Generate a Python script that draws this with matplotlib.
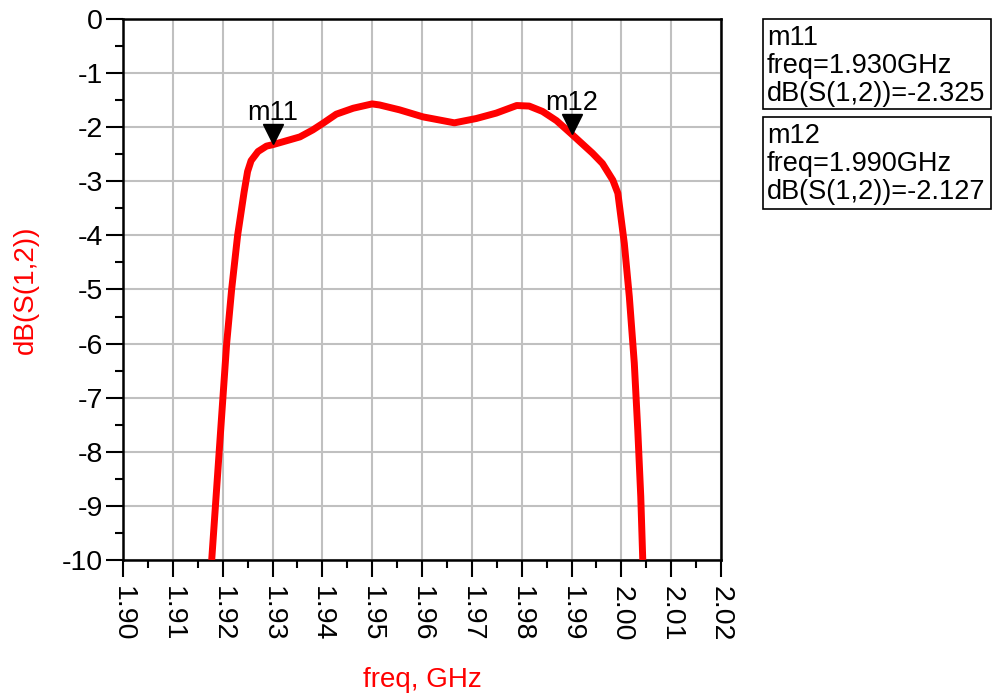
import matplotlib
matplotlib.use("Agg")
import matplotlib.pyplot as plt
import matplotlib.transforms as mtransforms
from matplotlib.patches import Rectangle
import numpy as np

plt.rcParams["font.family"] = ["Liberation Sans", "DejaVu Sans"]

# S(1,2) trace
freq_ghz = [1.9178, 1.9208, 1.9218, 1.9230, 1.9243, 1.9250, 1.9257, 1.9271,
            1.9288, 1.9300, 1.9321, 1.9355, 1.9381, 1.9401, 1.9428, 1.9462,
            1.9500, 1.9515, 1.9555, 1.9602, 1.9665, 1.9709, 1.9749, 1.9790,
            1.9815, 1.9842, 1.9870, 1.9900, 1.9942, 1.9962, 1.9983, 1.9993,
            2.0006, 2.0016, 2.0026, 2.0033, 2.0039, 2.0043]
s12_db = [-10.0, -6.0, -5.0, -4.0, -3.2, -2.82, -2.62, -2.45,
          -2.35, -2.325, -2.27, -2.18, -2.05, -1.93, -1.76, -1.65,
          -1.57, -1.59, -1.68, -1.81, -1.92, -1.84, -1.74, -1.60,
          -1.61, -1.71, -1.88, -2.127, -2.48, -2.67, -2.98, -3.22,
          -4.15, -5.13, -6.36, -7.6, -8.83, -10.0]

marker_names = ["m11", "m12"]
marker_freq = [1.930, 1.990]
marker_db = [-2.325, -2.127]

xticks = np.round(np.arange(1.90, 2.0201, 0.01), 2)
yticks = np.arange(-10, 1, 1)

fig = plt.figure(figsize=(10, 6.97), dpi=100)
ax = fig.add_axes([0.123, 0.1966, 0.598, 0.7762])

ax.plot(freq_ghz, s12_db, color="red", linewidth=5, solid_joinstyle="round",
        solid_capstyle="butt", zorder=3)

tri = mtransforms.offset_copy(ax.transData, fig=fig, x=0, y=7.5, units="points")
for name, f, v in zip(marker_names, marker_freq, marker_db):
    ax.plot(f, v, marker="v", markersize=15, color="black", transform=tri,
            zorder=4, clip_on=False)
    ax.annotate(name, xy=(f, v), xytext=(0, 17.5), textcoords="offset points",
                ha="center", va="baseline", fontsize=19.5, zorder=5)

ax.set_xlim(1.90, 2.02)
ax.set_ylim(-10, 0)
ax.set_xticks(xticks)
ax.set_xticklabels([f"{t:.2f}" for t in xticks], rotation=270, fontsize=20.5)
ax.set_xticks(xticks[:-1] + 0.005, minor=True)
ax.set_yticks(yticks)
ax.set_yticklabels([str(t) for t in yticks], fontsize=20.5)
ax.set_yticks(yticks[:-1] + 0.5, minor=True)

ax.tick_params(which="major", length=12.5, width=1.5)
ax.tick_params(which="minor", length=6, width=1.5)
ax.tick_params(axis="y", which="major", pad=2)
ax.tick_params(axis="x", which="major", pad=6)
ax.grid(True, which="major", color="#c0c0c0", linewidth=1.5)
ax.set_axisbelow(True)
for s in ax.spines.values():
    s.set_linewidth(1.8)

ax.set_xlabel("freq, GHz", color="red", fontsize=20, va="top")
ax.xaxis.set_label_coords(0.5, -0.197)
ax.set_ylabel("dB(S(1,2))", color="red", fontsize=20)
ax.yaxis.set_label_coords(-0.14, 0.5)

# marker readout boxes (pixel positions in a 1000x697 figure)
W, H = 1000.0, 697.0
box_tops = [19, 117]
box_bottoms = [109, 209]
line_base = [[45, 73, 101], [143, 171, 199]]
for i, (name, f, v) in enumerate(zip(marker_names, marker_freq, marker_db)):
    fig.patches.append(Rectangle((763 / W, 1 - box_bottoms[i] / H),
                                 (991 - 763) / W,
                                 (box_bottoms[i] - box_tops[i]) / H,
                                 transform=fig.transFigure, facecolor="white",
                                 edgecolor="black", linewidth=1.2))
    lines = [name, f"freq={f:.3f}GHz", f"dB(S(1,2))={v:.3f}"]
    for txt, yb in zip(lines, line_base[i]):
        fig.text(767 / W, 1 - yb / H, txt, fontsize=19.5, ha="left", va="baseline")

fig.savefig("out.png", dpi=100)
